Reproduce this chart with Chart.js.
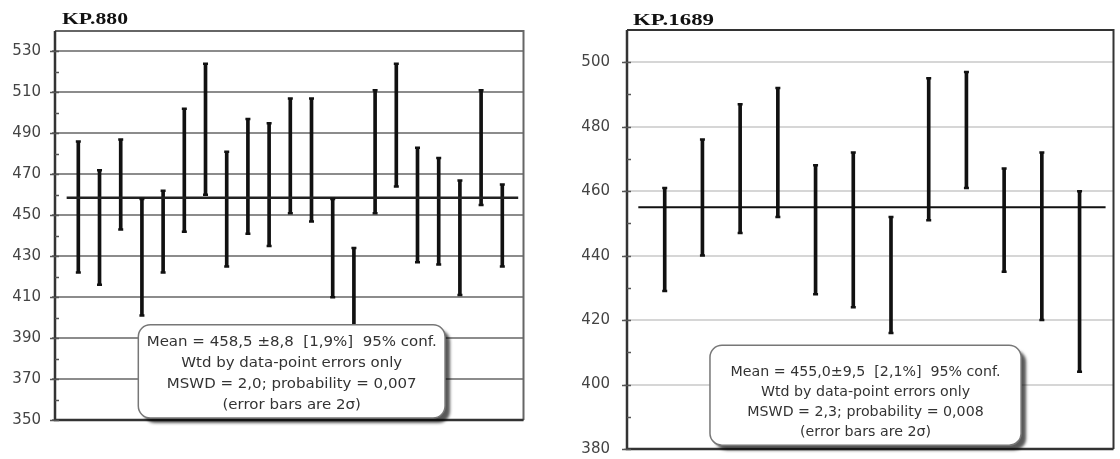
<!DOCTYPE html>
<html>
<head>
<meta charset="utf-8">
<script src="https://cdn.jsdelivr.net/npm/chart.js@4/dist/chart.umd.min.js"></script>
<style>
  html, body { margin: 0; padding: 0; background: #fff; }
  #wrap { position: relative; width: 1120px; height: 459px; overflow: hidden; }
  #leftChart { position: absolute; left: 0; top: 0; }
  #rightChart { position: absolute; left: 560px; top: 0; }
</style>
</head>
<body>
<div id="wrap">
  <canvas id="leftChart" width="530" height="459"></canvas>
  <canvas id="rightChart" width="560" height="459"></canvas>
</div>
<script>
// KP.880 - 2 sigma error bars (low / high ends)
const leftTitle = 'KP.880';
const leftLow  = [422, 416, 443, 401, 422, 442, 460, 425, 441, 435, 451, 447, 410, 378, 451, 464, 427, 426, 411, 455, 425];
const leftHigh = [486, 472, 487, 458, 462, 502, 524, 481, 497, 495, 507, 507, 458, 434, 511, 524, 483, 478, 467, 511, 465];
const leftMean = 458.5;
const leftTicks = [350, 370, 390, 410, 430, 450, 470, 490, 510, 530];
const leftNote = [
  'Mean = 458,5 \u00b18,8  [1,9%]  95% conf.',
  'Wtd by data-point errors only',
  'MSWD = 2,0; probability = 0,007',
  '(error bars are 2\u03c3)'
];

// KP.1689
const rightTitle = 'KP.1689';
const rightLow  = [429, 440, 447, 452, 428, 424, 416, 451, 461, 435, 420, 404];
const rightHigh = [461, 476, 487, 492, 468, 472, 452, 495, 497, 467, 472, 460];
const rightMean = 455.0;
const rightTicks = [380, 400, 420, 440, 460, 480, 500];
const rightNote = [
  'Mean = 455,0\u00b19,5  [2,1%]  95% conf.',
  'Wtd by data-point errors only',
  'MSWD = 2,3; probability = 0,008',
  '(error bars are 2\u03c3)'
];

function roundRectPath(ctx, x, y, w, h, r) {
    ctx.beginPath();
    ctx.moveTo(x + r, y);
    ctx.lineTo(x + w - r, y);
    ctx.arcTo(x + w, y, x + w, y + r, r);
    ctx.lineTo(x + w, y + h - r);
    ctx.arcTo(x + w, y + h, x + w - r, y + h, r);
    ctx.lineTo(x + r, y + h);
    ctx.arcTo(x, y + h, x, y + h - r, r);
    ctx.lineTo(x, y + r);
    ctx.arcTo(x, y, x + r, y, r);
    ctx.closePath();
}

// text in the source is a bit stretched sideways, so squeeze/stretch to width
function drawStretched(ctx, text, x, y, sx) {
    ctx.save();
    ctx.translate(x, y);
    ctx.scale(sx, 1);
    ctx.fillText(text, 0, 0);
    ctx.restore();
}

function framePlugin(opts) {
    return {
        id: 'frame',
        afterDatasetsDraw(chart) {
            const ctx = chart.ctx;
            const a = chart.chartArea;
            const ys = chart.scales.y;
            const xs = chart.scales.x;
            ctx.save();

            // frame
            ctx.strokeStyle = opts.frameColor;
            ctx.lineWidth = 2;
            ctx.beginPath();
            ctx.moveTo(a.left, a.top);
            ctx.lineTo(a.right, a.top);
            ctx.lineTo(a.right, a.bottom);
            ctx.stroke();
            ctx.strokeStyle = '#333';
            ctx.lineWidth = 2.5;
            ctx.beginPath();
            ctx.moveTo(a.left, a.top);
            ctx.lineTo(a.left, a.bottom);
            ctx.lineTo(a.right, a.bottom);
            ctx.stroke();

            // axis ticks (major + minor)
            ctx.lineWidth = 1.5;
            ctx.strokeStyle = '#555';
            for (let v = ys.min; v < ys.max; v += opts.step / 2) {
                const py = Math.round(ys.getPixelForValue(v)) + 0.5;
                const major = Math.abs((v - ys.min) % opts.step) < 1e-6;
                ctx.beginPath();
                ctx.moveTo(a.left - (major ? 5 : 0), py);
                ctx.lineTo(a.left + 4, py);
                ctx.stroke();
            }

            // title
            ctx.fillStyle = '#111';
            ctx.font = 'bold ' + opts.titleSize + 'px "Liberation Serif", serif';
            ctx.textBaseline = 'alphabetic';
            ctx.textAlign = 'left';
            const tw = ctx.measureText(opts.title).width;
            drawStretched(ctx, opts.title, a.left + opts.titleDx, opts.titleY, opts.titleWidth / tw);

            // note box
            const b = opts.box;
            const x0 = xs.getPixelForValue(b.x0);
            const x1 = xs.getPixelForValue(b.x1);
            const y0 = ys.getPixelForValue(b.y1);
            const y1 = ys.getPixelForValue(b.y0);
            ctx.save();
            ctx.shadowColor = 'rgba(0,0,0,0.65)';
            ctx.shadowOffsetX = 5;
            ctx.shadowOffsetY = 5;
            ctx.shadowBlur = 3;
            roundRectPath(ctx, x0, y0, x1 - x0, y1 - y0, 12);
            ctx.fillStyle = '#fff';
            ctx.fill();
            ctx.restore();
            roundRectPath(ctx, x0, y0, x1 - x0, y1 - y0, 12);
            ctx.strokeStyle = '#777';
            ctx.lineWidth = 1.5;
            ctx.stroke();

            ctx.fillStyle = '#333';
            ctx.font = '14px "DejaVu Sans", sans-serif';
            ctx.textAlign = 'center';
            ctx.textBaseline = 'middle';
            const sx = b.textWidth / ctx.measureText(opts.note[0]).width;
            const cx = (x0 + x1) / 2;
            opts.note.forEach((line, i) => {
                drawStretched(ctx, line, cx, y0 + b.textTop + i * b.lineGap, sx);
            });
            ctx.restore();
        }
    };
}

function makeChart(canvasId, low, high, mean, tickValues, cfg) {
    const bars = low.map((lo, i) => ({ x: i + 1, y: [lo, high[i]] }));
    const caps = [];
    low.forEach((lo, i) => {
        caps.push({ x: i + 1, y: lo });
        caps.push({ x: i + 1, y: high[i] });
    });

    return new Chart(document.getElementById(canvasId).getContext('2d'), {
        type: 'bar',
        data: {
            datasets: [
                {
                    type: 'line',
                    data: [{ x: cfg.meanFrom, y: mean }, { x: cfg.meanTo, y: mean }],
                    borderColor: cfg.meanColor,
                    borderWidth: cfg.meanWidth,
                    pointRadius: 0,
                    order: 1
                },
                {
                    type: 'bar',
                    data: bars,
                    backgroundColor: '#111',
                    borderWidth: 0,
                    barThickness: 3,
                    order: 2
                },
                {
                    type: 'scatter',
                    data: caps,
                    pointStyle: 'line',
                    radius: 2.5,
                    borderWidth: 2.5,
                    borderColor: '#111',
                    order: 0
                }
            ]
        },
        options: {
            responsive: false,
            animation: false,
            layout: { padding: cfg.padding },
            plugins: {
                legend: { display: false },
                tooltip: { enabled: false }
            },
            scales: {
                x: {
                    type: 'linear',
                    min: cfg.xMin,
                    max: cfg.xMax,
                    offset: false,
                    display: false
                },
                y: {
                    min: cfg.yMin,
                    max: cfg.yMax,
                    afterBuildTicks: (scale) => {
                        scale.ticks = tickValues.map(v => ({ value: v }));
                    },
                    afterFit: (scale) => {
                        scale.width = cfg.axisWidth;
                        scale.paddingTop = 0;
                        scale.paddingBottom = 0;
                    },
                    border: { display: false },
                    grid: {
                        color: cfg.gridColor,
                        lineWidth: 2,
                        drawTicks: true,
                        tickLength: 3,
                        tickColor: cfg.gridColor
                    },
                    ticks: {
                        padding: cfg.tickPad,
                        color: '#444',
                        font: { family: '"DejaVu Sans", sans-serif', size: 15 }
                    }
                }
            }
        },
        plugins: [framePlugin(cfg)]
    });
}

makeChart('leftChart', leftLow, leftHigh, leftMean, leftTicks, {
    title: leftTitle, titleSize: 16, titleWidth: 66, titleDx: 7, titleY: 24,
    note: leftNote,
    box: { x0: 3.83, x1: 18.3, y0: 351, y1: 396.5, textTop: 18, lineGap: 21, textWidth: 290 },
    padding: { left: 0, top: 31, right: 6, bottom: 39 },
    axisWidth: 55, tickPad: 11,
    xMin: -0.1, xMax: 22, yMin: 350, yMax: 540, step: 20,
    meanFrom: 0.45, meanTo: 21.75, meanColor: '#222', meanWidth: 2.5,
    gridColor: '#8c8c8c', frameColor: '#666'
});

makeChart('rightChart', rightLow, rightHigh, rightMean, rightTicks, {
    title: rightTitle, titleSize: 17, titleWidth: 81, titleDx: 6, titleY: 25,
    note: rightNote,
    box: { x0: 2.2, x1: 10.45, y0: 381.2, y1: 412.2, textTop: 27, lineGap: 20, textWidth: 270 },
    padding: { left: 0, top: 30, right: 2, bottom: 10 },
    axisWidth: 67, tickPad: 14,
    xMin: 0, xMax: 12.9, yMin: 380, yMax: 510, step: 20,
    meanFrom: 0.3, meanTo: 12.69, meanColor: '#111', meanWidth: 2,
    gridColor: '#d6d6d6', frameColor: '#333'
});
</script>
</body>
</html>
